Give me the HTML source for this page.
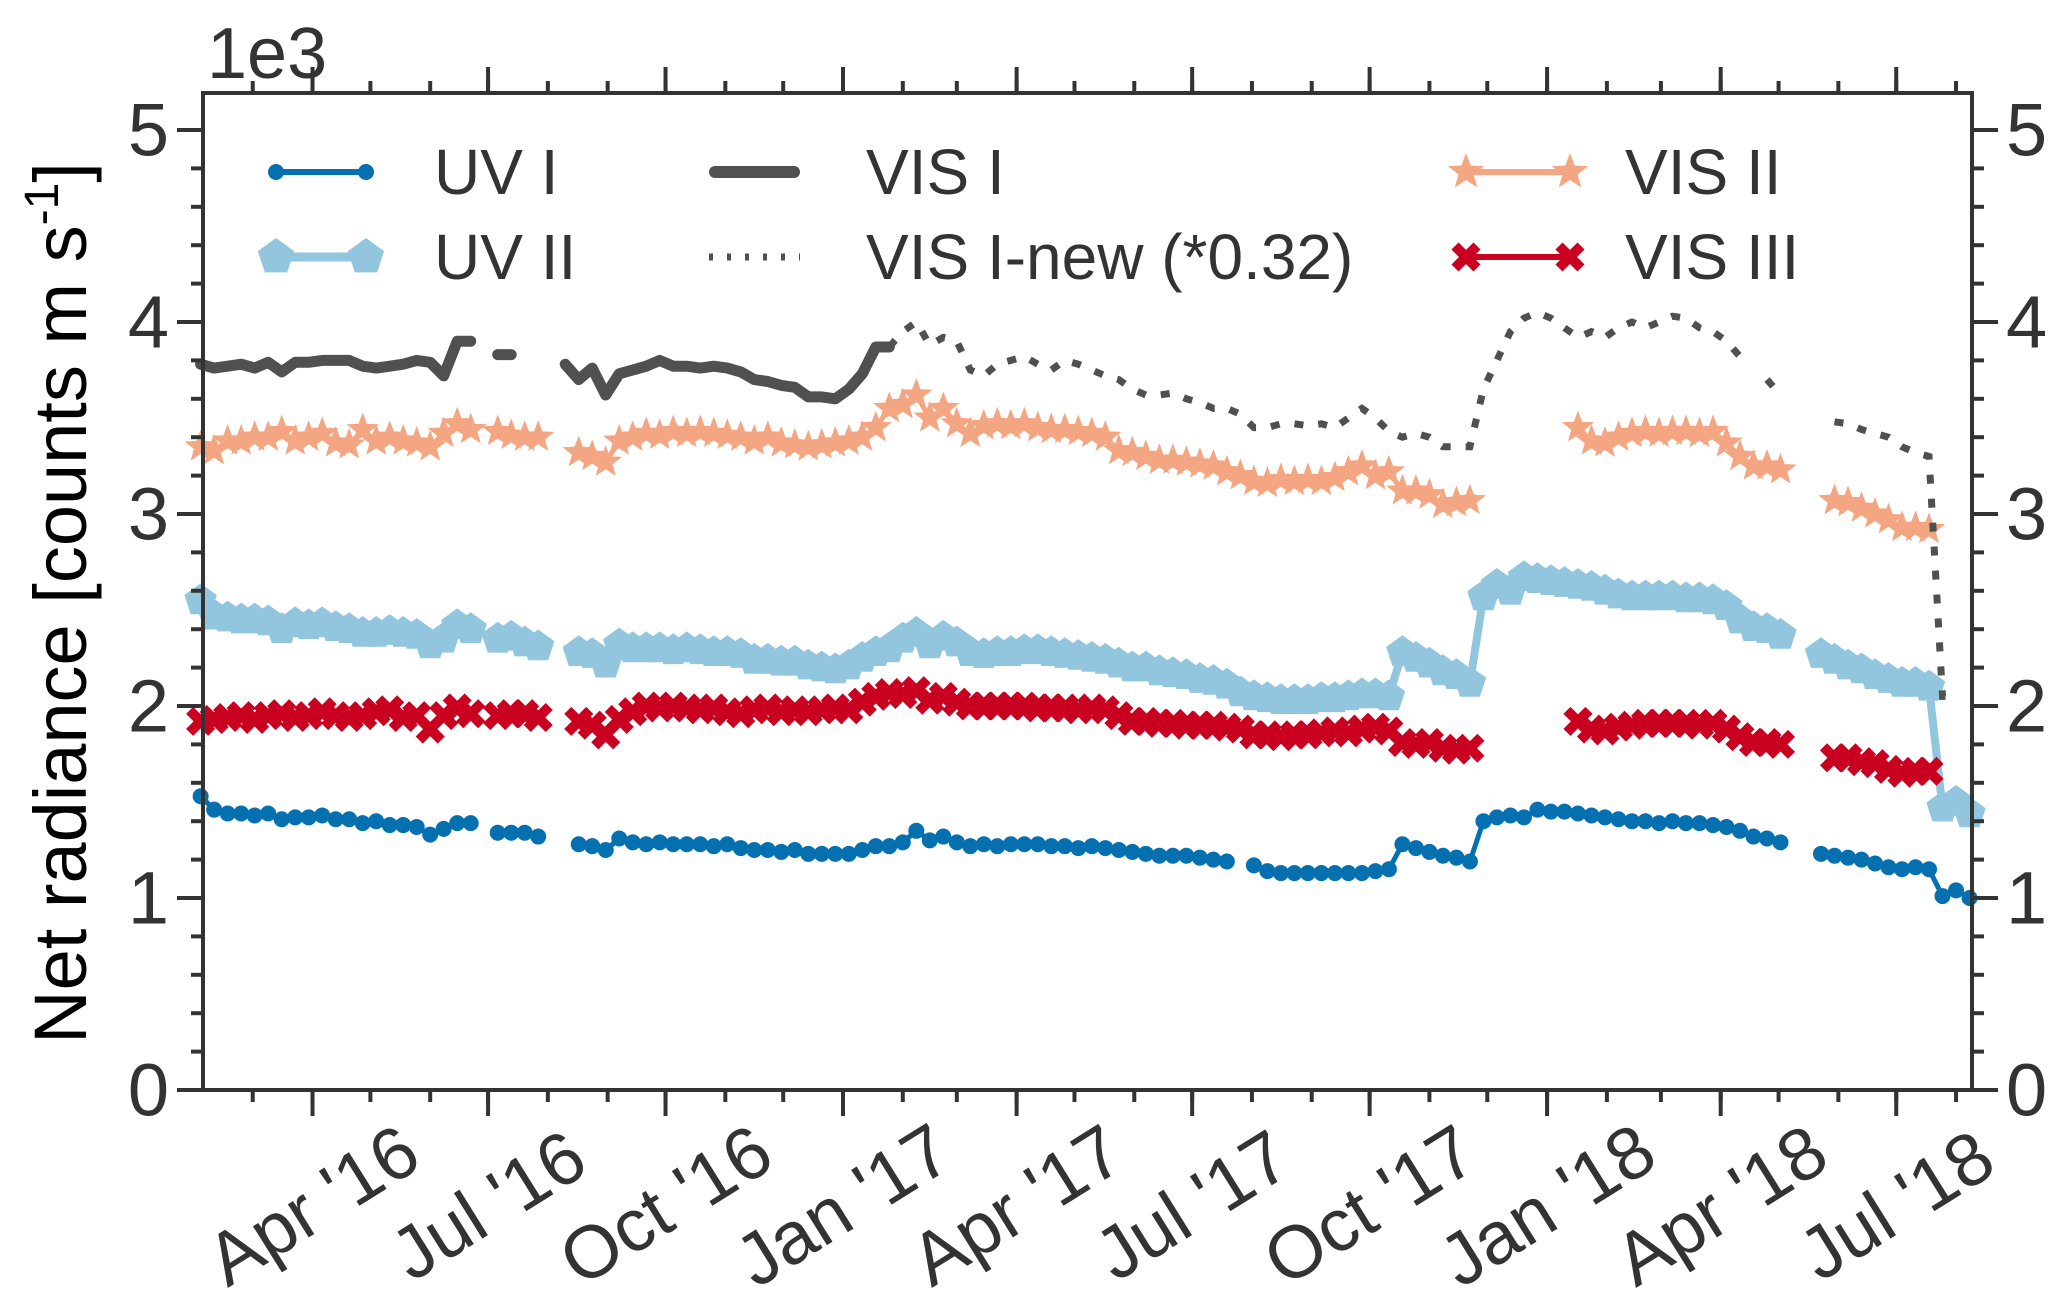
<!DOCTYPE html>
<html><head><meta charset="utf-8"><style>
html,body{margin:0;padding:0;background:#fff;}
svg{display:block;font-family:"Liberation Sans",sans-serif;}
</style></head><body>
<svg id="chart" width="2067" height="1309" viewBox="0 0 2067 1309">
<g id="plot"></g>
<g id="axes"></g>
<g id="legend"></g>
</svg>
<script>
// Week i => date = 2016-02-03 + 7*i
const weekCount = 132;
const uv1 = [1.53,1.46,1.44,1.44,1.43,1.44,1.41,1.42,1.42,1.43,1.41,1.41,1.39,1.40,1.38,1.38,1.37,1.33,1.36,1.39,1.39,null,1.34,1.34,1.34,1.32,null,null,1.28,1.27,1.25,1.31,1.29,1.28,1.29,1.28,1.28,1.28,1.27,1.28,1.26,1.25,1.25,1.24,1.25,1.23,1.23,1.23,1.23,1.25,1.27,1.27,1.29,1.35,1.30,1.32,1.29,1.27,1.28,1.27,1.28,1.28,1.28,1.27,1.27,1.26,1.27,1.26,1.25,1.24,1.23,1.22,1.22,1.22,1.21,1.20,1.19,null,1.17,1.14,1.13,1.13,1.13,1.13,1.13,1.13,1.13,1.14,1.15,1.28,1.26,1.24,1.22,1.21,1.19,1.40,1.42,1.43,1.42,1.46,1.45,1.45,1.44,1.43,1.42,1.41,1.40,1.40,1.39,1.40,1.39,1.39,1.38,1.37,1.35,1.32,1.31,1.29,null,null,1.23,1.22,1.21,1.20,1.18,1.16,1.15,1.16,1.15,1.01,1.04,1.00];
const uv2 = [2.55,2.47,2.46,2.45,2.45,2.44,2.40,2.43,2.42,2.43,2.41,2.40,2.38,2.38,2.39,2.38,2.37,2.32,2.35,2.42,2.40,null,2.35,2.36,2.33,2.31,null,null,2.28,2.27,2.22,2.32,2.30,2.30,2.30,2.29,2.30,2.29,2.28,2.28,2.27,2.24,2.24,2.23,2.23,2.21,2.20,2.19,2.21,2.25,2.28,2.30,2.35,2.38,2.32,2.36,2.33,2.28,2.27,2.28,2.28,2.29,2.29,2.28,2.27,2.26,2.25,2.24,2.22,2.20,2.20,2.18,2.17,2.16,2.14,2.13,2.11,2.07,2.05,2.04,2.03,2.03,2.03,2.04,2.04,2.05,2.06,2.06,2.05,2.28,2.25,2.22,2.18,2.16,2.12,2.57,2.63,2.60,2.67,2.66,2.65,2.64,2.63,2.62,2.60,2.58,2.57,2.57,2.57,2.57,2.56,2.56,2.55,2.52,2.45,2.41,2.40,2.37,null,null,2.27,2.24,2.21,2.19,2.16,2.14,2.12,2.12,2.10,1.47,1.50,1.44];
const vis3 = [1.92,1.93,1.94,1.95,1.93,1.95,1.96,1.94,1.95,1.97,1.95,1.94,1.95,1.97,1.98,1.94,1.95,1.88,1.95,1.99,1.96,null,1.95,1.96,1.96,1.94,null,null,1.92,1.90,1.85,1.93,1.97,2.00,1.99,2.00,1.99,1.98,1.99,1.97,1.96,1.98,1.99,1.97,1.98,1.97,1.98,1.99,1.98,2.02,2.05,2.07,2.06,2.08,2.03,2.05,2.02,2.00,2.00,2.00,2.00,2.00,1.99,1.99,1.99,1.98,1.99,1.98,1.95,1.92,1.92,1.91,1.91,1.90,1.90,1.90,1.89,1.88,1.85,1.85,1.84,1.85,1.85,1.86,1.87,1.86,1.88,1.89,1.87,1.81,1.80,1.81,1.78,1.77,1.78,null,null,null,null,null,null,null,1.92,1.88,1.87,1.89,1.90,1.91,1.91,1.91,1.91,1.90,1.91,1.88,1.84,1.81,1.81,1.80,null,null,null,1.73,1.73,1.71,1.70,1.67,1.65,1.66,1.66,null,null,null];
const vis2 = [3.35,3.33,3.38,3.38,3.40,3.40,3.43,3.38,3.40,3.42,3.37,3.36,3.44,3.38,3.40,3.38,3.37,3.35,3.42,3.47,3.44,null,3.43,3.41,3.40,3.40,null,null,3.32,3.30,3.27,3.38,3.40,3.42,3.41,3.43,3.42,3.43,3.42,3.41,3.40,3.38,3.40,3.37,3.36,3.35,3.36,3.37,3.38,3.40,3.45,3.55,3.57,3.62,3.50,3.55,3.47,3.42,3.46,3.47,3.46,3.47,3.45,3.44,3.44,3.43,3.42,3.40,3.33,3.32,3.30,3.28,3.28,3.27,3.26,3.25,3.22,3.20,3.17,3.16,3.18,3.17,3.18,3.17,3.19,3.22,3.25,3.20,3.22,3.12,3.12,3.10,3.05,3.06,3.07,null,null,null,null,null,null,null,3.45,3.38,3.37,3.40,3.42,3.43,3.42,3.43,3.43,3.42,3.43,3.37,3.30,3.25,3.25,3.23,null,null,null,3.07,3.06,3.03,3.00,2.97,2.93,2.93,2.92,null,null,null];
const vis1 = [3.78,3.76,3.77,3.78,3.76,3.79,3.74,3.79,3.79,3.80,3.80,3.80,3.77,3.76,3.77,3.78,3.80,3.79,3.72,3.90,3.90,null,3.83,3.83,null,null,null,3.78,3.70,3.76,3.62,3.73,3.75,3.77,3.80,3.77,3.77,3.76,3.77,3.76,3.74,3.70,3.69,3.67,3.66,3.61,3.61,3.60,3.65,3.73,3.87,3.87];
const vis1newStart = 51;
const vis1new = [3.87,3.95,4.00,3.88,3.92,3.90,3.75,3.72,3.78,3.80,3.82,3.78,3.75,3.80,3.78,3.75,3.72,3.70,3.65,3.62,3.62,3.63,3.60,3.58,3.55,3.55,3.52,3.45,3.45,3.47,3.47,3.46,3.47,3.45,3.50,3.55,3.50,3.43,3.40,3.42,3.40,3.35,3.35,3.35,3.65,3.80,3.95,4.02,4.05,4.02,3.97,3.92,3.95,3.92,3.97,4.00,3.97,4.00,4.03,4.02,3.97,3.95,3.90,3.82,null,3.70,3.62,null,null,null,3.48,3.47,3.44,3.42,3.40,3.35,3.32,3.30,2.05,2.05,null];
const yTicks = [0,1,2,3,4,5];
const xTickLabels = ["Apr '16","Jul '16","Oct '16","Jan '17","Apr '17","Jul '17","Oct '17","Jan '18","Apr '18","Jul '18"];
const xTickDays = [-275,-184,-92,0,90,181,273,365,455,546]; // days from 2017-01-01

const NS="http://www.w3.org/2000/svg";
const L=203,R=1972,T=93,B=1090;
const PXDAY=1.929, X0=843;
function xDay(d){return X0+PXDAY*d;}
function xWeek(i){return xDay(-333+7*i);}
function yv(v){return B-192*v;}
function mk(tag,attrs,parent){const e=document.createElementNS(NS,tag);for(const k in attrs)e.setAttribute(k,attrs[k]);parent.appendChild(e);return e;}
const plot=document.getElementById('plot'),axes=document.getElementById('axes'),leg=document.getElementById('legend');

function linePath(arr,off){let d='',pen=false;arr.forEach((v,i)=>{if(v==null){pen=false;return;}const x=xWeek(i+off),y=yv(v);d+=(pen?'L':'M')+x.toFixed(1)+' '+y.toFixed(1);pen=true;});return d;}
function starPts(cx,cy,r){let p=[];for(let k=0;k<10;k++){const a=-Math.PI/2+k*Math.PI/5;const rr=k%2?r*0.42:r;p.push((cx+rr*Math.cos(a)).toFixed(1)+','+(cy+rr*Math.sin(a)).toFixed(1));}return p.join(' ');}
function pentPts(cx,cy,r){let p=[];for(let k=0;k<5;k++){const a=-Math.PI/2+k*2*Math.PI/5;p.push((cx+r*Math.cos(a)).toFixed(1)+','+(cy+r*Math.sin(a)).toFixed(1));}return p.join(' ');}
function xPath(cx,cy,s){return `M${cx-s} ${cy-s}L${cx+s} ${cy+s}M${cx+s} ${cy-s}L${cx-s} ${cy+s}`;}

// UV II
let g=mk('g',{},plot);


mk('path',{d:linePath(uv2,0),fill:'none',stroke:'#92c5de','stroke-width':8,'stroke-linejoin':'round'},g);
uv2.forEach((v,i)=>{if(v==null)return;const p=mk('polygon',{points:pentPts(xWeek(i),yv(v),17),fill:'#92c5de'},g);

});
// VIS III
g=mk('g',{},plot);


mk('path',{d:linePath(vis3,0),fill:'none',stroke:'#ca0020','stroke-width':4},g);
vis3.forEach((v,i)=>{if(v==null)return;const p=mk('path',{d:xPath(xWeek(i),yv(v),11),stroke:'#ca0020','stroke-width':10},g);

});
// UV I
g=mk('g',{},plot);


mk('path',{d:linePath(uv1,0),fill:'none',stroke:'#0570b0','stroke-width':5,'stroke-linejoin':'round'},g);
uv1.forEach((v,i)=>{if(v==null)return;const p=mk('circle',{cx:xWeek(i),cy:yv(v),r:8,fill:'#0570b0'},g);

});
// VIS II
g=mk('g',{},plot);


mk('path',{d:linePath(vis2,0),fill:'none',stroke:'#f4a582','stroke-width':5},g);
vis2.forEach((v,i)=>{if(v==null)return;const p=mk('polygon',{points:starPts(xWeek(i),yv(v),17),fill:'#f4a582'},g);

});
// VIS I
g=mk('g',{},plot);


mk('path',{d:linePath(vis1,0),fill:'none',stroke:'#505050','stroke-width':11,'stroke-linejoin':'round','stroke-linecap':'round'},g);
g=mk('g',{},plot);


mk('path',{d:linePath(vis1new,vis1newStart),fill:'none',stroke:'#505050','stroke-width':7,'stroke-dasharray':'9 15'},g);

// axes frame
mk('rect',{x:L,y:T,width:R-L,height:B-T,fill:'none',stroke:'#333','stroke-width':4},axes);
for(let v=0;v<=5.2;v+=0.2){const y=yv(v);const major=Math.abs(v-Math.round(v))<1e-6;const len=major?26:12;
mk('line',{x1:L-len,x2:L,y1:y,y2:y,stroke:'#333','stroke-width':4},axes);
mk('line',{x1:R,x2:R+len,y1:y,y2:y,stroke:'#333','stroke-width':4},axes);}
yTicks.forEach(v=>{const y=yv(v);
let t=mk('text',{x:L-34,y:y,'text-anchor':'end','dominant-baseline':'central','font-size':74,fill:'#333'},axes);t.textContent=v;


t=mk('text',{x:R+34,y:y,'text-anchor':'start','dominant-baseline':'central','font-size':74,fill:'#333'},axes);t.textContent=v;

});
const monthDays=[-306,-275,-245,-214,-184,-153,-122,-92,-61,-31,0,31,59,90,120,151,181,212,243,273,304,334,365,396,424,455,485,516,546,577];
monthDays.forEach(d=>{const x=xDay(d);if(x<L||x>R)return;
mk('line',{x1:x,x2:x,y1:B,y2:B+12,stroke:'#333','stroke-width':4},axes);
mk('line',{x1:x,x2:x,y1:T,y2:T-12,stroke:'#333','stroke-width':4},axes);});
xTickDays.forEach((d,i)=>{const x=xDay(d);
mk('line',{x1:x,x2:x,y1:B,y2:B+26,stroke:'#333','stroke-width':4},axes);
mk('line',{x1:x,x2:x,y1:T,y2:T-26,stroke:'#333','stroke-width':4},axes);
const t=mk('text',{x:x,y:1205,'text-anchor':'middle','dominant-baseline':'central','font-size':74,fill:'#333',transform:`rotate(-32 ${x} 1205)`},axes);t.textContent=xTickLabels[i];

});
let t=mk('text',{x:207,y:78,'font-size':72,fill:'#333'},axes);t.textContent='1e3';


t=mk('text',{x:86,y:603,'text-anchor':'middle','font-size':74,fill:'#000',transform:'rotate(-90 86 603)'},axes);
t.innerHTML='Net radiance [counts m s<tspan dy="-28" font-size="48">-1</tspan><tspan dy="28">]</tspan>';



const entries=[
{name:'UV I',x1:276,x2:366,y:172,tx:434,type:'uv1'},
{name:'UV II',x1:276,x2:366,y:257,tx:434,type:'uv2'},
{name:'VIS I',x1:709,x2:800,y:172,tx:866,type:'vis1'},
{name:'VIS I-new (*0.32)',x1:709,x2:800,y:257,tx:866,type:'vis1n'},
{name:'VIS II',x1:1466,x2:1570,y:172,tx:1625,type:'vis2'},
{name:'VIS III',x1:1466,x2:1570,y:257,tx:1625,type:'vis3'}];
entries.forEach(e=>{const eg=mk('g',{},leg);


if(e.type==='uv1'){mk('line',{x1:e.x1,x2:e.x2,y1:e.y,y2:e.y,stroke:'#0570b0','stroke-width':6},eg);[e.x1,e.x2].forEach(x=>mk('circle',{cx:x,cy:e.y,r:8,fill:'#0570b0'},eg));}
if(e.type==='uv2'){mk('line',{x1:e.x1,x2:e.x2,y1:e.y,y2:e.y,stroke:'#92c5de','stroke-width':9},eg);[e.x1,e.x2].forEach(x=>mk('polygon',{points:pentPts(x,e.y,19),fill:'#92c5de'},eg));}
if(e.type==='vis1'){mk('line',{x1:e.x1+6,x2:e.x2-6,y1:e.y,y2:e.y,stroke:'#505050','stroke-width':12,'stroke-linecap':'round'},eg);}
if(e.type==='vis1n'){mk('line',{x1:e.x1,x2:e.x2,y1:e.y,y2:e.y,stroke:'#505050','stroke-width':7,'stroke-dasharray':'4 14'},eg);}
if(e.type==='vis2'){mk('line',{x1:e.x1,x2:e.x2,y1:e.y,y2:e.y,stroke:'#f4a582','stroke-width':6},eg);[e.x1,e.x2].forEach(x=>mk('polygon',{points:starPts(x,e.y,19),fill:'#f4a582'},eg));}
if(e.type==='vis3'){mk('line',{x1:e.x1,x2:e.x2,y1:e.y,y2:e.y,stroke:'#ca0020','stroke-width':6},eg);[e.x1,e.x2].forEach(x=>mk('path',{d:xPath(x,e.y,11),stroke:'#ca0020','stroke-width':10},eg));}
const tt=mk('text',{x:e.tx,y:e.y,'dominant-baseline':'central','font-size':64,fill:'#333'},eg);tt.textContent=e.name;

});
</script>
</body></html>
